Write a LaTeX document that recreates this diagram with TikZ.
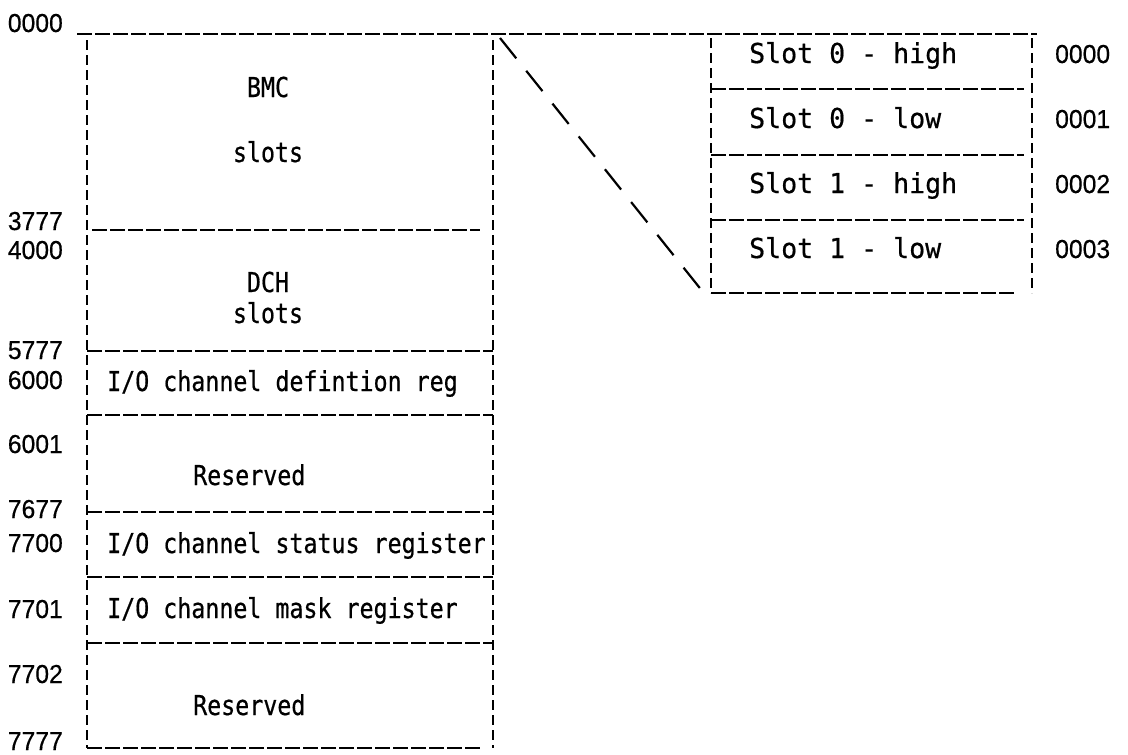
\documentclass[tikz,border=0pt]{standalone}
\usepackage{fontspec}
\newfontfamily\boxfont[FakeStretch=0.85,FakeBold=0.6]{DejaVu Sans Mono}
\newfontfamily\wideboxfont[FakeStretch=0.97,FakeBold=0.6]{DejaVu Sans Mono}
\newfontfamily\addrfont[FakeStretch=0.95,FakeBold=0.5]{Liberation Sans}
\begin{document}
\begin{tikzpicture}[x=1pt,y=-1pt,
  hline/.style={line width=2.2pt,dash pattern=on 15pt off 3pt},
  vline/.style={line width=2.2pt,dash pattern=on 10pt off 5pt},
  slant/.style={line width=2.2pt,dash pattern=on 26pt off 16pt},
  addr/.style={inner sep=0pt,font=\addrfont\fontsize{26}{26}\selectfont},
  raddr/.style={addr,anchor=base east},
  laddr/.style={addr,anchor=base west},
  cell/.style={inner sep=0pt,font=\boxfont\fontsize{27.4}{27.4}\selectfont},
  ccell/.style={cell,anchor=base},
  wcell/.style={cell,anchor=base west},
  slotcell/.style={inner sep=0pt,anchor=base west,font=\wideboxfont\fontsize{27.4}{27.4}\selectfont}]
\useasboundingbox (0,0) rectangle (1128,755);

% ---- main memory map ----
\coordinate (topL) at (77,34);
\coordinate (topR) at (1037,34);
\coordinate (mTL) at (87,40);
\coordinate (mBL) at (87,748);
\coordinate (mTR) at (493,40);
\coordinate (mBR) at (493,748);
\draw[hline] (topL) -- (topR);
\draw[vline] (mTL) -- (mBL);
\draw[vline] (mTR) -- (mBR);

\coordinate (d1L) at (92,230);  \coordinate (d1R) at (480,230);
\coordinate (d2L) at (87,351);  \coordinate (d2R) at (493,351);
\coordinate (d3L) at (87,415);  \coordinate (d3R) at (493,415);
\coordinate (d4L) at (87,512);  \coordinate (d4R) at (493,512);
\coordinate (d5L) at (87,577);  \coordinate (d5R) at (493,577);
\coordinate (d6L) at (87,643);  \coordinate (d6R) at (493,643);
\coordinate (d7L) at (87,748);  \coordinate (d7R) at (482,748);
\foreach \i in {1,...,7} \draw[hline] (d\i L) -- (d\i R);

\node[ccell] (bmc) at (268,97) {BMC};
\node[ccell] (bmcs) at (268,162) {slots};
\node[ccell] (dch) at (268,292) {DCH};
\node[ccell] (dchs) at (268,323) {slots};
\node[wcell] (defreg) at (107,391) {I/O channel defintion reg};
\node[wcell] (res1) at (193,485) {Reserved};
\node[wcell] (statreg) at (107,553) {I/O channel status register};
\node[wcell] (maskreg) at (107,618) {I/O channel mask register};
\node[wcell] (res2) at (193,715) {Reserved};

% ---- addresses of the main map ----
\node[raddr] (a0000) at (63,32) {0000};
\node[raddr] (a3777) at (63,230) {3777};
\node[raddr] (a4000) at (63,259) {4000};
\node[raddr] (a5777) at (63,359) {5777};
\node[raddr] (a6000) at (63,389) {6000};
\node[raddr] (a6001) at (63,453) {6001};
\node[raddr] (a7677) at (63,518) {7677};
\node[raddr] (a7700) at (63,552) {7700};
\node[raddr] (a7701) at (63,618) {7701};
\node[raddr] (a7702) at (63,683) {7702};
\node[raddr] (a7777) at (63,750) {7777};

% ---- slot detail ----
\coordinate (sTL) at (711,38);  \coordinate (sBL) at (711,293);
\coordinate (sTR) at (1032,38); \coordinate (sBR) at (1032,293);
\draw[vline] (sTL) -- (sBL);
\draw[vline] (sTR) -- (sBR);
\coordinate (s1L) at (711,89);  \coordinate (s1R) at (1024,89);
\coordinate (s2L) at (711,155); \coordinate (s2R) at (1024,155);
\coordinate (s3L) at (711,220); \coordinate (s3R) at (1024,220);
\coordinate (s4L) at (711,293); \coordinate (s4R) at (1014,293);
\foreach \i in {1,...,4} \draw[hline] (s\i L) -- (s\i R);

\node[slotcell] (s0h) at (749,63) {Slot 0 - high};
\node[slotcell] (s0l) at (749,128) {Slot 0 - low};
\node[slotcell] (s1h) at (749,193) {Slot 1 - high};
\node[slotcell] (s1l) at (749,258) {Slot 1 - low};

\node[laddr] (b0000) at (1055,63) {0000};
\node[laddr] (b0001) at (1055,128) {0001};
\node[laddr] (b0002) at (1055,193) {0002};
\node[laddr] (b0003) at (1055,258) {0003};

% ---- expansion line ----
\coordinate (zA) at (500,38);
\coordinate (zB) at (703,292);
\draw[slant] (zA) -- (zB);
\end{tikzpicture}
\end{document}
